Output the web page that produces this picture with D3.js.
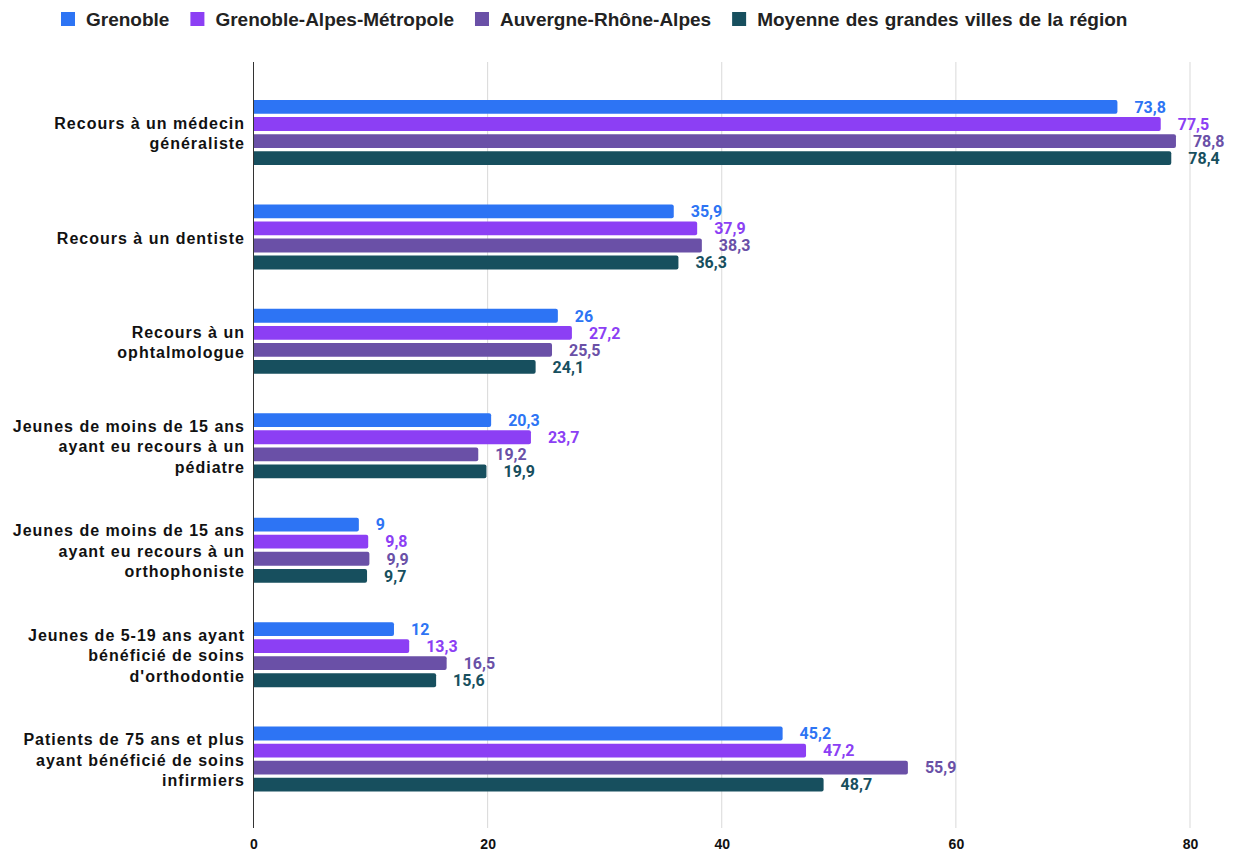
<!DOCTYPE html>
<html>
<head>
<meta charset="utf-8">
<script src="https://cdn.jsdelivr.net/npm/d3@7"></script>
<style>
  html, body { margin: 0; padding: 0; background: #fff; }
  svg { display: block; }
</style>
</head>
<body>
<svg id="chart" width="1234" height="850"></svg>
<script>
const categories = [
  ["Recours à un médecin", "généraliste"],
  ["Recours à un dentiste"],
  ["Recours à un", "ophtalmologue"],
  ["Jeunes de moins de 15 ans", "ayant eu recours à un", "pédiatre"],
  ["Jeunes de moins de 15 ans", "ayant eu recours à un", "orthophoniste"],
  ["Jeunes de 5-19 ans ayant", "bénéficié de soins", "d'orthodontie"],
  ["Patients de 75 ans et plus", "ayant bénéficié de soins", "infirmiers"]
];
const seriesNames = ["Grenoble", "Grenoble-Alpes-Métropole", "Auvergne-Rhône-Alpes", "Moyenne des grandes villes de la région"];
const seriesColors = ["#2d74f4", "#8c3ff4", "#6a50a7", "#174f5e"];
const grenoble = [73.8, 35.9, 26, 20.3, 9, 12, 45.2];
const metropole = [77.5, 37.9, 27.2, 23.7, 9.8, 13.3, 47.2];
const auvergne = [78.8, 38.3, 25.5, 19.2, 9.9, 16.5, 55.9];
const moyenne = [78.4, 36.3, 24.1, 19.9, 9.7, 15.6, 48.7];
const xTicks = [0, 20, 40, 60, 80];

const series = [grenoble, metropole, auvergne, moyenne];
const sans = "'Liberation Sans', Arial, sans-serif";

const svg = d3.select("#chart");
const plot = { left: 253.5, right: 1190, top: 62, bottom: 828 };
const bandTop = 80.3, bandBottom = 811.3;

const x = d3.scaleLinear().domain([0, 80]).range([plot.left, plot.right]);
const y = d3.scaleBand().domain(d3.range(categories.length)).range([bandTop, bandBottom]);
const inner = d3.scaleBand().domain(d3.range(series.length)).range([-32.5, 32.5]).paddingInner(0.19);

// vertical gridlines
svg.append("g").selectAll("line").data(xTicks.filter(t => t > 0)).join("line")
  .attr("x1", d => x(d)).attr("x2", d => x(d))
  .attr("y1", plot.top).attr("y2", plot.bottom)
  .attr("stroke", "#d9d9d9").attr("stroke-width", 1);

// x axis tick labels
const axis = d3.axisBottom(x).tickValues(xTicks).tickSize(0).tickPadding(0).tickFormat(d3.format("d"));
const axG = svg.append("g").attr("transform", `translate(0,${plot.bottom})`).call(axis);
axG.select(".domain").remove();
axG.selectAll("text")
  .attr("dy", 0).attr("y", 20.5)
  .attr("font-family", sans)
  .attr("font-weight", "bold").attr("font-size", 14).attr("fill", "#111");

// bars with rounded right ends, plus value labels
series.forEach((vals, si) => {
  const g = svg.append("g");
  g.selectAll("path").data(vals).join("path")
    .attr("fill", seriesColors[si])
    .attr("d", (v, i) => {
      const y0 = y(i) + y.bandwidth() / 2 + inner(si);
      const h = inner.bandwidth();
      const x0 = x(0), x1 = x(v), r = 2;
      return `M${x0},${y0}H${x1 - r}Q${x1},${y0} ${x1},${y0 + r}V${y0 + h - r}Q${x1},${y0 + h} ${x1 - r},${y0 + h}H${x0}Z`;
    });
  g.selectAll("text").data(vals).join("text")
    .attr("x", v => x(v) + 17)
    .attr("y", (v, i) => y(i) + y.bandwidth() / 2 + inner(si) + inner.bandwidth() / 2)
    .attr("dy", "0.36em")
    .attr("font-family", "Roboto, sans-serif").attr("font-weight", "bold").attr("font-size", 16)
    .attr("fill", seriesColors[si])
    .text(v => String(v).replace(".", ","));
});

// zero line
svg.append("line")
  .attr("x1", plot.left).attr("x2", plot.left)
  .attr("y1", plot.top).attr("y2", plot.bottom)
  .attr("stroke", "#333").attr("stroke-width", 1);

// category labels
const catG = svg.append("g");
categories.forEach((lines, i) => {
  const cy = y(i) + y.bandwidth() / 2;
  const lh = 20.5;
  const t = catG.append("text")
    .attr("text-anchor", "end")
    .attr("font-family", sans)
    .attr("font-weight", "bold").attr("font-size", 16)
    .attr("letter-spacing", 1)
    .attr("fill", "#111");
  lines.forEach((ln, k) => {
    t.append("tspan").attr("x", 245)
      .attr("y", cy + 1 + (k - (lines.length - 1) / 2) * lh)
      .attr("dy", "0.35em").text(ln);
  });
});

// legend
const legG = svg.append("g").attr("transform", "translate(61,0)");
let lx = 0;
seriesNames.forEach((name, i) => {
  const g = legG.append("g").attr("transform", `translate(${lx},0)`);
  g.append("rect").attr("x", 0).attr("y", 12).attr("width", 14).attr("height", 14).attr("fill", seriesColors[i]);
  const tx = g.append("text").attr("x", 25).attr("y", 26)
    .attr("font-family", sans)
    .attr("font-weight", "bold").attr("font-size", 19).attr("word-spacing", 1).attr("fill", "#222").text(name);
  lx += 25 + tx.node().getComputedTextLength() + 21;
});
</script>
</body>
</html>
